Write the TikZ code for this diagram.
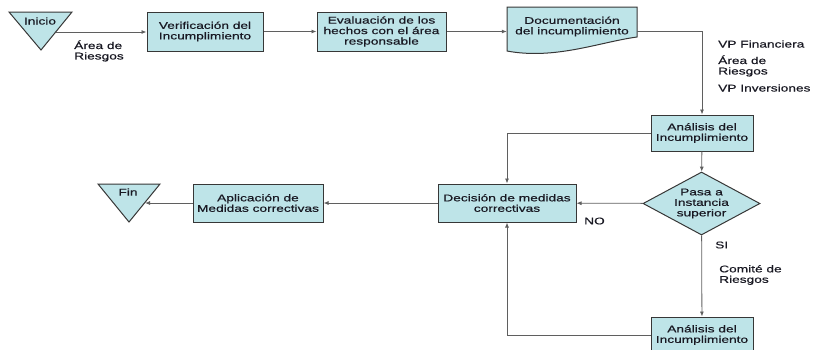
\documentclass[tikz,border=0pt]{standalone}
\usepackage{fontspec}
\setmainfont{Liberation Sans}[FakeStretch=1.4, FakeBold=0.5]
\usetikzlibrary{shapes.geometric,arrows.meta}
\definecolor{boxfill}{RGB}{190,228,232}
\definecolor{edgegray}{RGB}{55,55,55}
\definecolor{linegray}{RGB}{95,95,95}
\definecolor{txt}{RGB}{25,25,35}
\begin{document}
\begin{tikzpicture}[x=1pt, y=-1pt, font=\fontsize{9.8}{10.5}\selectfont, text=txt,
    box/.style={draw=edgegray, fill=boxfill, align=center, inner sep=1pt, line width=1pt},
    decide/.style={diamond, draw=edgegray, fill=boxfill, align=center, inner sep=0pt, aspect=1.86,
                   minimum width=117pt, minimum height=63pt, line width=1pt},
    shapeline/.style={draw=edgegray, fill=boxfill, line width=1pt},
    note/.style={align=left, anchor=west, inner sep=0pt},
    flow/.style={draw=linegray, line width=0.8pt, -{Latex[length=5pt,width=4pt]}}]
    \useasboundingbox (0,0) rectangle (817,349);

    % top row
    \path[shapeline] (9,12) -- (72,12) -- (41,50) -- cycle;
    \node (inicio) at (40,21) {Inicio};
    \coordinate (inicio-out) at (56,32);
    \node[box, minimum width=116pt, minimum height=39pt] (verif) at (205,31.5) {Verificación del\\Incumplimiento};
    \node[box, minimum width=129pt, minimum height=39pt] (eval) at (381.5,31.5) {Evaluación de los\\hechos con el área\\responsable};
    \path[shapeline] (507,7) -- (637,7) -- (637,37) .. controls (600,42) and (555,60) .. (507,51) -- cycle;
    \node[minimum width=130pt, minimum height=39pt, align=center, inner sep=0pt] (doc) at (572,26.5) {Documentación\\del incumplimiento};

    % right column
    \node[box, minimum width=102pt, minimum height=36pt] (an1) at (702,133) {Análisis del\\Incumplimiento};
    \node[decide] (dec) at (701.5,203.5) {Pasa a\\Instancia\\superior};
    \node[box, minimum width=102pt, minimum height=36pt] (an2) at (702,335) {Análisis del\\Incumplimiento};

    % bottom row
    \node[box, minimum width=138pt, minimum height=38pt] (decis) at (507,203) {Decisión de medidas\\correctivas};
    \node[box, minimum width=130pt, minimum height=38pt] (aplic) at (258,203) {Aplicación de\\Medidas correctivas};
    \path[shapeline] (98,184) -- (160,184) -- (129,222) -- cycle;
    \node (fin) at (128,192) {Fin};
    \coordinate (fin-in) at (145,203);

    % labels
    \node[note] (lbl-riesgos1) at (74,51) {Área de\\Riesgos};
    \node[note] (lbl-vpfin) at (718,44) {VP Financiera};
    \node[note] (lbl-riesgos2) at (718,66) {Área de\\Riesgos};
    \node[note] (lbl-vpinv) at (718,88) {VP Inversiones};
    \node[note] (lbl-no) at (584,221) {NO};
    \node[note] (lbl-si) at (715,245) {SI};
    \node[note] (lbl-comite) at (719,275) {Comité de\\Riesgos};

    % connectors
    \draw[flow] (inicio-out) -- (inicio-out -| verif.west);
    \draw[flow] (verif) -- (eval);
    \draw[flow] (eval) -- (eval -| doc.west);
    \draw[flow] (doc.east |- eval) -| (an1);
    \draw[flow] (an1) -- (dec);
    \draw[flow] (an1.west) -| (decis);
    \draw[flow] (dec) -- (decis);
    \draw[flow] (dec) -- (an2);
    \draw[flow] (an2.west) -| (decis);
    \draw[flow] (decis) -- (aplic);
    \draw[flow] (aplic) -- (fin-in);
\end{tikzpicture}
\end{document}
